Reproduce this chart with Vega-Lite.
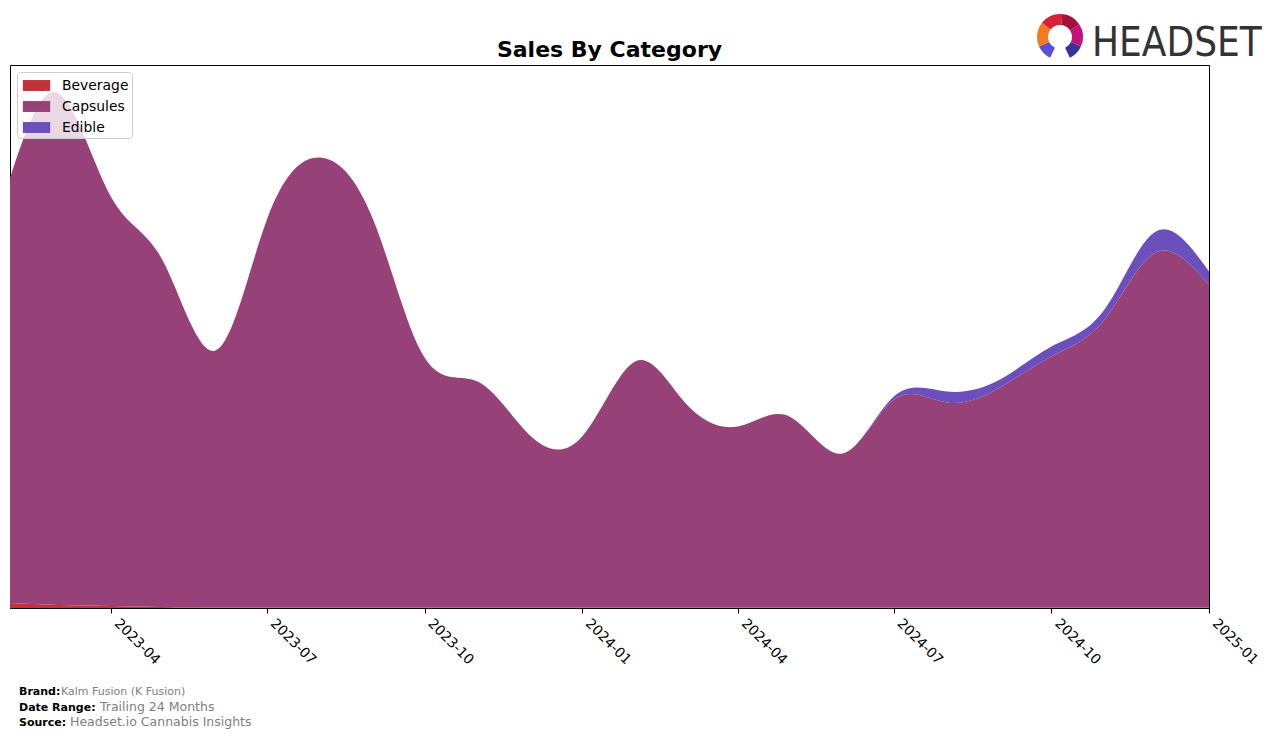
{
  "$schema": "https://vega.github.io/schema/vega-lite/v6.json",
  "autosize": "none",
  "width": 1199,
  "height": 543,
  "padding": {"left": 10, "top": 65, "right": 67, "bottom": 130},
  "background": "white",
  "config": {
    "font": "DejaVu Sans",
    "view": {"stroke": "black", "strokeWidth": 1},
    "axis": {"grid": false}
  },
  "datasets": {
    "sales": [
      {"date": "2023-02-01", "category": "Beverage", "sales": 5},
      {"date": "2023-03-01", "category": "Beverage", "sales": 3},
      {"date": "2023-04-01", "category": "Beverage", "sales": 2},
      {"date": "2023-05-01", "category": "Beverage", "sales": 1},
      {"date": "2023-06-01", "category": "Beverage", "sales": 0.5},
      {"date": "2023-07-01", "category": "Beverage", "sales": 0.5},
      {"date": "2023-08-01", "category": "Beverage", "sales": 0.5},
      {"date": "2023-09-01", "category": "Beverage", "sales": 0.5},
      {"date": "2023-10-01", "category": "Beverage", "sales": 0.5},
      {"date": "2023-11-01", "category": "Beverage", "sales": 0.5},
      {"date": "2023-12-01", "category": "Beverage", "sales": 0.5},
      {"date": "2024-01-01", "category": "Beverage", "sales": 0.5},
      {"date": "2024-02-01", "category": "Beverage", "sales": 0.5},
      {"date": "2024-03-01", "category": "Beverage", "sales": 0.5},
      {"date": "2024-04-01", "category": "Beverage", "sales": 0.5},
      {"date": "2024-05-01", "category": "Beverage", "sales": 0.5},
      {"date": "2024-06-01", "category": "Beverage", "sales": 0.5},
      {"date": "2024-07-01", "category": "Beverage", "sales": 0.5},
      {"date": "2024-08-01", "category": "Beverage", "sales": 0.5},
      {"date": "2024-09-01", "category": "Beverage", "sales": 0.5},
      {"date": "2024-10-01", "category": "Beverage", "sales": 0.5},
      {"date": "2024-11-01", "category": "Beverage", "sales": 0.5},
      {"date": "2024-12-01", "category": "Beverage", "sales": 0.5},
      {"date": "2025-01-01", "category": "Beverage", "sales": 0.5},
      {"date": "2023-02-01", "category": "Capsules", "sales": 425},
      {"date": "2023-03-01", "category": "Capsules", "sales": 512},
      {"date": "2023-04-01", "category": "Capsules", "sales": 409},
      {"date": "2023-05-01", "category": "Capsules", "sales": 347},
      {"date": "2023-06-01", "category": "Capsules", "sales": 257},
      {"date": "2023-07-01", "category": "Capsules", "sales": 388},
      {"date": "2023-08-01", "category": "Capsules", "sales": 450},
      {"date": "2023-09-01", "category": "Capsules", "sales": 388},
      {"date": "2023-10-01", "category": "Capsules", "sales": 250},
      {"date": "2023-11-01", "category": "Capsules", "sales": 226},
      {"date": "2023-12-01", "category": "Capsules", "sales": 173},
      {"date": "2024-01-01", "category": "Capsules", "sales": 171},
      {"date": "2024-02-01", "category": "Capsules", "sales": 246},
      {"date": "2024-03-01", "category": "Capsules", "sales": 205},
      {"date": "2024-04-01", "category": "Capsules", "sales": 181},
      {"date": "2024-05-01", "category": "Capsules", "sales": 191},
      {"date": "2024-06-01", "category": "Capsules", "sales": 154},
      {"date": "2024-07-01", "category": "Capsules", "sales": 208},
      {"date": "2024-08-01", "category": "Capsules", "sales": 205},
      {"date": "2024-09-01", "category": "Capsules", "sales": 220},
      {"date": "2024-10-01", "category": "Capsules", "sales": 251},
      {"date": "2024-11-01", "category": "Capsules", "sales": 288},
      {"date": "2024-12-01", "category": "Capsules", "sales": 355},
      {"date": "2025-01-01", "category": "Capsules", "sales": 323},
      {"date": "2023-02-01", "category": "Edible", "sales": 0},
      {"date": "2023-03-01", "category": "Edible", "sales": 0},
      {"date": "2023-04-01", "category": "Edible", "sales": 0},
      {"date": "2023-05-01", "category": "Edible", "sales": 0},
      {"date": "2023-06-01", "category": "Edible", "sales": 0},
      {"date": "2023-07-01", "category": "Edible", "sales": 0},
      {"date": "2023-08-01", "category": "Edible", "sales": 0},
      {"date": "2023-09-01", "category": "Edible", "sales": 0},
      {"date": "2023-10-01", "category": "Edible", "sales": 0},
      {"date": "2023-11-01", "category": "Edible", "sales": 0},
      {"date": "2023-12-01", "category": "Edible", "sales": 0},
      {"date": "2024-01-01", "category": "Edible", "sales": 0},
      {"date": "2024-02-01", "category": "Edible", "sales": 0},
      {"date": "2024-03-01", "category": "Edible", "sales": 0},
      {"date": "2024-04-01", "category": "Edible", "sales": 0},
      {"date": "2024-05-01", "category": "Edible", "sales": 0},
      {"date": "2024-06-01", "category": "Edible", "sales": 0},
      {"date": "2024-07-01", "category": "Edible", "sales": 3},
      {"date": "2024-08-01", "category": "Edible", "sales": 11},
      {"date": "2024-09-01", "category": "Edible", "sales": 8},
      {"date": "2024-10-01", "category": "Edible", "sales": 10},
      {"date": "2024-11-01", "category": "Edible", "sales": 10},
      {"date": "2024-12-01", "category": "Edible", "sales": 21},
      {"date": "2025-01-01", "category": "Edible", "sales": 13}
    ]
  },
  "layer": [
    {
      "data": {"name": "sales"},
      "mark": {"type": "area", "interpolate": "natural", "opacity": 1},
      "encoding": {
        "x": {
          "field": "date",
          "type": "temporal",
          "scale": {
            "type": "utc",
            "domain": [
              {"year": 2023, "month": 2, "date": 1, "utc": true},
              {"year": 2025, "month": 1, "date": 1, "utc": true}
            ]
          },
          "axis": {
            "title": null,
            "format": "%Y-%m",
            "values": [
              {"year": 2023, "month": 4, "date": 1, "utc": true},
              {"year": 2023, "month": 7, "date": 1, "utc": true},
              {"year": 2023, "month": 10, "date": 1, "utc": true},
              {"year": 2024, "month": 1, "date": 1, "utc": true},
              {"year": 2024, "month": 4, "date": 1, "utc": true},
              {"year": 2024, "month": 7, "date": 1, "utc": true},
              {"year": 2024, "month": 10, "date": 1, "utc": true},
              {"year": 2025, "month": 1, "date": 1, "utc": true}
            ],
            "labelAngle": 45,
            "labelAlign": "left",
            "labelBaseline": "top",
            "labelFontSize": 13.9,
            "labelFont": "DejaVu Sans",
            "labelColor": "black",
            "labelPadding": 3,
            "labelOffset": 10,
            "labelOverlap": false,
            "labelBound": false,
            "labelFlush": false,
            "tickSize": 5,
            "tickColor": "black",
            "domainColor": "black",
            "grid": false
          }
        },
        "y": {
          "field": "sales",
          "type": "quantitative",
          "stack": "zero",
          "scale": {"domain": [0, 543], "nice": false, "zero": true},
          "axis": null
        },
        "color": {
          "field": "category",
          "type": "nominal",
          "scale": {
            "domain": ["Beverage", "Capsules", "Edible"],
            "range": ["#c13338", "#964178", "#6a4fbd"]
          },
          "legend": {
            "title": null,
            "orient": "top-left",
            "offset": 7,
            "padding": 3,
            "fillColor": "rgba(255,255,255,0.8)",
            "strokeColor": "#cccccc",
            "cornerRadius": 3,
            "labelFontSize": 13.9,
            "labelFont": "DejaVu Sans",
            "labelColor": "black",
            "labelOffset": 15,
            "rowPadding": 3,
            "symbolOffset": 6,
            "symbolType": "M-1.3,-0.52H1.3V0.52H-1.3Z",
            "symbolSize": 441,
            "symbolStrokeWidth": 0,
            "symbolOpacity": 1
          }
        },
        "order": {"field": "category", "sort": "ascending"}
      }
    },
    {
      "data": {"values": [{"t": "Sales By Category"}]},
      "mark": {"type": "text", "align": "center", "baseline": "alphabetic", "fontSize": 22, "fontWeight": "bold", "color": "black", "font": "DejaVu Sans"},
      "encoding": {"text": {"field": "t"}, "x": {"value": 599.5}, "y": {"value": -8}}
    },
    {
      "data": {"values": [{"t": "Brand:"}]},
      "mark": {"type": "text", "align": "left", "baseline": "alphabetic", "fontSize": 11, "fontWeight": "bold", "color": "black", "font": "DejaVu Sans"},
      "encoding": {"text": {"field": "t"}, "x": {"value": 9}, "y": {"value": 630}}
    },
    {
      "data": {"values": [{"t": "Kalm Fusion (K Fusion)"}]},
      "mark": {"type": "text", "align": "left", "baseline": "alphabetic", "fontSize": 11, "color": "#808080", "font": "DejaVu Sans"},
      "encoding": {"text": {"field": "t"}, "x": {"value": 51}, "y": {"value": 630}}
    },
    {
      "data": {"values": [{"t": "Date Range:"}]},
      "mark": {"type": "text", "align": "left", "baseline": "alphabetic", "fontSize": 11, "fontWeight": "bold", "color": "black", "font": "DejaVu Sans"},
      "encoding": {"text": {"field": "t"}, "x": {"value": 9}, "y": {"value": 646}}
    },
    {
      "data": {"values": [{"t": "Trailing 24 Months"}]},
      "mark": {"type": "text", "align": "left", "baseline": "alphabetic", "fontSize": 12.5, "color": "#808080", "font": "DejaVu Sans"},
      "encoding": {"text": {"field": "t"}, "x": {"value": 90}, "y": {"value": 646}}
    },
    {
      "data": {"values": [{"t": "Source:"}]},
      "mark": {"type": "text", "align": "left", "baseline": "alphabetic", "fontSize": 11, "fontWeight": "bold", "color": "black", "font": "DejaVu Sans"},
      "encoding": {"text": {"field": "t"}, "x": {"value": 9}, "y": {"value": 661}}
    },
    {
      "data": {"values": [{"t": "Headset.io Cannabis Insights"}]},
      "mark": {"type": "text", "align": "left", "baseline": "alphabetic", "fontSize": 12.5, "color": "#808080", "font": "DejaVu Sans"},
      "encoding": {"text": {"field": "t"}, "x": {"value": 60}, "y": {"value": 661}}
    },
    {
      "data": {"values": [{"t": "HEADSET"}]},
      "mark": {"type": "text", "align": "left", "baseline": "alphabetic", "fontSize": 40, "color": "#333333", "font": "'DejaVu Sans Condensed', Roboto, sans-serif"},
      "encoding": {"text": {"field": "t"}, "x": {"value": 1082}, "y": {"value": -9}}
    },
    {
      "data": {"values": [{}]},
      "mark": {"type": "arc", "color": "#5b4fd6", "radius": 23, "radius2": 12, "theta": -2.7, "theta2": -2.0},
      "encoding": {"x": {"value": 1050}, "y": {"value": -28}}
    },
    {
      "data": {"values": [{}]},
      "mark": {"type": "arc", "color": "#f47a20", "radius": 23, "radius2": 12, "theta": -2.0, "theta2": -0.9},
      "encoding": {"x": {"value": 1050}, "y": {"value": -28}}
    },
    {
      "data": {"values": [{}]},
      "mark": {"type": "arc", "color": "#d8203a", "radius": 23, "radius2": 12, "theta": -0.9, "theta2": 0.1},
      "encoding": {"x": {"value": 1050}, "y": {"value": -28}}
    },
    {
      "data": {"values": [{}]},
      "mark": {"type": "arc", "color": "#a3123f", "radius": 23, "radius2": 12, "theta": 0.1, "theta2": 1.0},
      "encoding": {"x": {"value": 1050}, "y": {"value": -28}}
    },
    {
      "data": {"values": [{}]},
      "mark": {"type": "arc", "color": "#c4127a", "radius": 23, "radius2": 12, "theta": 1.0, "theta2": 2.0},
      "encoding": {"x": {"value": 1050}, "y": {"value": -28}}
    },
    {
      "data": {"values": [{}]},
      "mark": {"type": "arc", "color": "#34349e", "radius": 23, "radius2": 12, "theta": 2.0, "theta2": 2.7},
      "encoding": {"x": {"value": 1050}, "y": {"value": -28}}
    }
  ]
}
